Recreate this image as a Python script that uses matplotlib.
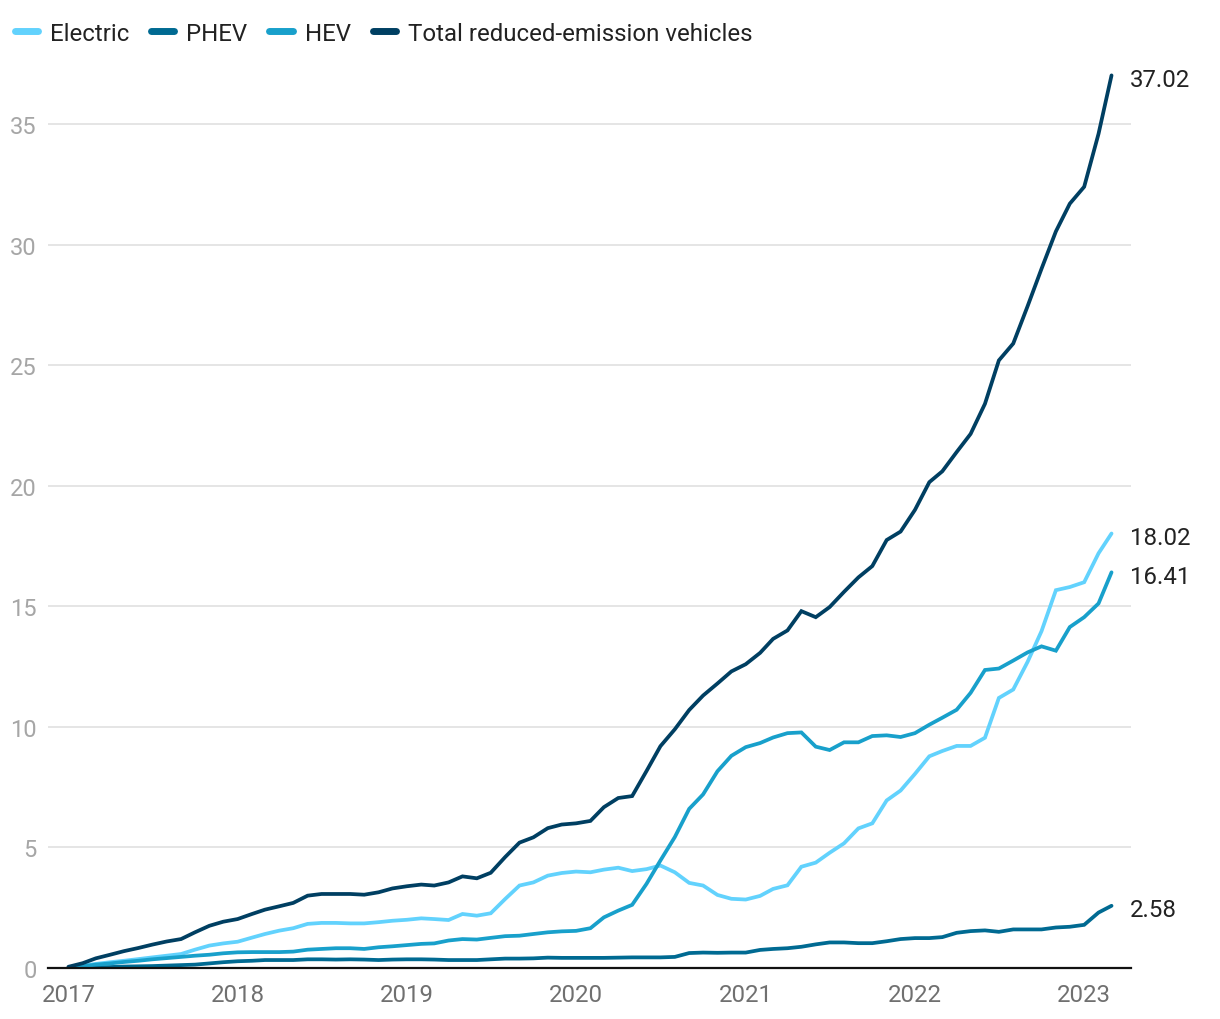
import numpy as np
import pandas as pd
import matplotlib
matplotlib.use("Agg")
import matplotlib.pyplot as plt
import matplotlib.dates as mdates

# monthly values, Jan 2017 - Mar 2023
months = pd.date_range("2017-01-01", "2023-03-01", freq="MS")

electric = [0.0, 0.1, 0.17, 0.24, 0.3, 0.37, 0.44, 0.51, 0.58, 0.76, 0.93, 1.02,
            1.09, 1.26, 1.41, 1.55, 1.65, 1.83, 1.87, 1.87, 1.85, 1.85, 1.9, 1.96,
            2.0, 2.06, 2.03, 1.99, 2.24, 2.17, 2.27, 2.86, 3.42, 3.55, 3.83, 3.94,
            4.0, 3.97, 4.08, 4.16, 4.02, 4.1, 4.25, 3.97, 3.53, 3.42, 3.03, 2.87,
            2.84, 2.99, 3.28, 3.43, 4.2, 4.37, 4.78, 5.17, 5.79, 6.0, 6.95, 7.36,
            8.05, 8.78, 9.0, 9.21, 9.21, 9.55, 11.2, 11.55, 12.7, 13.97, 15.67, 15.8,
            16.0, 17.2, 18.02]

phev = [0.0, 0.01, 0.03, 0.04, 0.06, 0.07, 0.08, 0.1, 0.12, 0.14, 0.19, 0.24,
        0.28, 0.3, 0.33, 0.33, 0.33, 0.36, 0.36, 0.35, 0.36, 0.35, 0.33, 0.35,
        0.36, 0.36, 0.35, 0.33, 0.33, 0.33, 0.36, 0.39, 0.39, 0.4, 0.43, 0.42,
        0.42, 0.42, 0.42, 0.43, 0.44, 0.44, 0.44, 0.46, 0.62, 0.64, 0.63, 0.64,
        0.64, 0.75, 0.79, 0.82, 0.88, 0.98, 1.06, 1.06, 1.03, 1.03, 1.11, 1.2,
        1.24, 1.24, 1.28, 1.46, 1.53, 1.56, 1.5, 1.6, 1.6, 1.6, 1.68, 1.71,
        1.79, 2.3, 2.58]

hev = [0.0, 0.07, 0.14, 0.19, 0.25, 0.3, 0.36, 0.41, 0.46, 0.51, 0.55, 0.61,
       0.65, 0.66, 0.66, 0.66, 0.68, 0.76, 0.79, 0.82, 0.82, 0.79, 0.86, 0.9,
       0.95, 1.0, 1.02, 1.14, 1.2, 1.18, 1.25, 1.32, 1.34, 1.41, 1.48, 1.52,
       1.54, 1.65, 2.1, 2.38, 2.62, 3.49, 4.46, 5.43, 6.6, 7.2, 8.16, 8.8,
       9.16, 9.33, 9.56, 9.74, 9.77, 9.18, 9.04, 9.36, 9.36, 9.62, 9.65, 9.58,
       9.74, 10.09, 10.38, 10.71, 11.41, 12.36, 12.42, 12.75, 13.09, 13.34, 13.16, 14.14,
       14.55, 15.12, 16.41]

total = [0.05, 0.2, 0.4, 0.55, 0.7, 0.83, 0.97, 1.1, 1.2, 1.48, 1.75, 1.92,
         2.03, 2.24, 2.42, 2.56, 2.7, 3.0, 3.07, 3.07, 3.07, 3.04, 3.14, 3.3,
         3.39, 3.46, 3.42, 3.55, 3.8, 3.72, 3.95, 4.6, 5.2, 5.42, 5.8, 5.95,
         6.0, 6.1, 6.67, 7.05, 7.13, 8.17, 9.2, 9.9, 10.7, 11.3, 11.8, 12.3,
         12.6, 13.07, 13.65, 14.0, 14.8, 14.55, 14.97, 15.6, 16.2, 16.67, 17.75, 18.1,
         19.0, 20.15, 20.6, 21.4, 22.15, 23.4, 25.2, 25.9, 27.45, 29.0, 30.55, 31.7,
         32.4, 34.6, 37.02]

names = ["Electric", "PHEV", "HEV", "Total reduced-emission vehicles"]
colors = ["#62d2fd", "#006a92", "#18a0cb", "#003f62"]
series = [electric, phev, hev, total]

plt.rcParams['font.family'] = ['Roboto', 'DejaVu Sans']

fig = plt.figure(figsize=(12.2, 10.2), dpi=100)
ax = fig.add_axes([48/1220, 51/1020, (1131-48)/1220, (969-60)/1020])

for vals, c, n in zip(series, colors, names):
    ax.plot(months, vals, color=c, lw=2.7, label=n, solid_capstyle='round',
            solid_joinstyle='miter')
    ax.annotate(f"{vals[-1]:.2f}", xy=(months[-1], vals[-1]), xytext=(13, -3),
                textcoords='offset points', fontsize=17.3, color='#222222',
                va='center', ha='left', annotation_clip=False)

ax.set_ylim(0, 37.7)
ax.set_xlim(pd.Timestamp("2016-11-18"), pd.Timestamp("2023-04-12"))
ax.set_yticks([0, 5, 10, 15, 20, 25, 30, 35])
ax.set_xticks(pd.date_range("2017-01-01", "2023-01-01", freq="YS"))
ax.xaxis.set_major_formatter(mdates.DateFormatter("%Y"))

ax.grid(axis='y', color='#e3e3e3', lw=1.3)
ax.set_axisbelow(True)
for s in ['top', 'right', 'left']:
    ax.spines[s].set_visible(False)
ax.spines['bottom'].set_color('#111111')
ax.spines['bottom'].set_linewidth(1.6)
ax.tick_params(axis='y', length=0, pad=8, labelsize=17, labelcolor='#a6a6a6')
ax.tick_params(axis='x', length=0, pad=11, labelsize=17.3, labelcolor='#707070')

leg = fig.legend(loc='upper left', bbox_to_anchor=(5/1220, 1 - 13/1020), ncol=4,
                 frameon=False, fontsize=17.3, handlelength=0.96, handletextpad=0.5,
                 columnspacing=0.92, borderaxespad=0)
for h in leg.legend_handles:
    h.set_linewidth(5)
    h.set_solid_capstyle('round')
for t in leg.get_texts():
    t.set_color('#222222')

fig.savefig("out.png", dpi=100)
